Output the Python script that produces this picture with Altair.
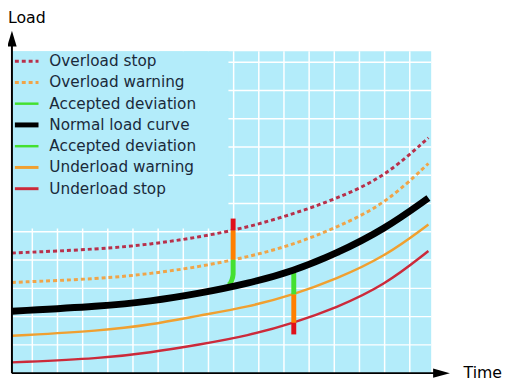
import altair as alt
import pandas as pd

# ---------------- data ----------------
time = [-0.81, 2.75, 4.69, 6.63, 8.57, 10.39, 12.05, 13.99, 15.74]
overload_stop = [4.25, 4.39, 4.56, 4.81, 5.16, 5.64, 6.16, 6.93, 8.33]
overload_warning = [3.21, 3.34, 3.52, 3.76, 4.11, 4.55, 5.14, 5.96, 7.42]
normal_load = [2.19, 2.37, 2.54, 2.82, 3.17, 3.62, 4.22, 5.09, 6.20]
underload_warning = [1.32, 1.50, 1.71, 2.04, 2.34, 2.78, 3.32, 4.11, 5.26]
underload_stop = [0.38, 0.52, 0.73, 1.01, 1.32, 1.78, 2.30, 3.10, 4.32]

# deviation marker 1 (overload side)
m1_time = 7.98
m1_red = [5.47, 5.05]
m1_orange = [5.05, 4.01]
m1_green_t = [7.98, 7.98, 7.93, 7.80]
m1_green_v = [4.01, 3.50, 3.30, 3.12]
# deviation marker 2 (underload side)
m2_time = 10.39
m2_green = [3.55, 2.78]
m2_orange = [2.78, 1.78]
m2_red = [1.78, 1.37]

grid_x = list(range(0, 16))
grid_y = list(range(1, 12))

legend_labels = ["Overload stop", "Overload warning", "Accepted deviation",
                 "Normal load curve", "Accepted deviation", "Underload warning",
                 "Underload stop"]

# ---------------- styling ----------------
W, H = 426, 327
BLUE = "#b3ecfa"
C_OSTOP = "#b8304a"
C_OWARN = "#f0a448"
C_GREEN = "#44e030"
C_UWARN = "#f0a030"
C_USTOP = "#cc2a3a"
C_MORANGE = "#ff8000"
C_MRED = "#e0101a"
TXT = "#1a2a3a"

legend_colors = [C_OSTOP, C_OWARN, C_GREEN, "#000000", C_GREEN, C_UWARN, C_USTOP]
legend_dash = [[4, 3], [4, 3], None, None, None, None, None]
legend_width = [3, 3, 2.5, 5, 2.5, 3, 3]

X = alt.X("t:Q", scale=alt.Scale(domain=[-0.81, 15.85], nice=False, zero=False), axis=None)
Y = alt.Y("v:Q", scale=alt.Scale(domain=[0, 11.39], nice=False, zero=False), axis=None)
Y2 = alt.Y2("v2:Q")

one = pd.DataFrame({"a": [0]})
layers = []

# grid
layers.append(alt.Chart(pd.DataFrame({"t": grid_x})).mark_rule(color="white", strokeWidth=1.5)
              .encode(x=X, y=alt.value(0), y2=alt.value(H)))
layers.append(alt.Chart(pd.DataFrame({"v": grid_y})).mark_rule(color="white", strokeWidth=1.5)
              .encode(y=Y, x=alt.value(0), x2=alt.value(W)))
# legend background
layers.append(alt.Chart(one).mark_rect(color=BLUE)
              .encode(x=alt.value(0), x2=alt.value(220), y=alt.value(0), y2=alt.value(180)))


def curve(vals, color, width, dash=None):
    df = pd.DataFrame({"t": time, "v": vals})
    kw = dict(color=color, strokeWidth=width, interpolate="basis", clip=True)
    if dash:
        kw["strokeDash"] = dash
    return alt.Chart(df).mark_line(**kw).encode(x=X, y=Y)


layers.append(curve(overload_stop, C_OSTOP, 3, [4, 3]))
layers.append(curve(overload_warning, C_OWARN, 3, [4, 3]))
layers.append(curve(underload_warning, C_UWARN, 2.5))
layers.append(curve(underload_stop, C_USTOP, 2.5))


def seg(t, pair, color):
    df = pd.DataFrame({"t": [t], "v": [pair[0]], "v2": [pair[1]]})
    return alt.Chart(df).mark_rule(color=color, strokeWidth=5, strokeCap="butt").encode(x=X, y=Y, y2=Y2)


layers.append(seg(m1_time, m1_red, C_MRED))
layers.append(seg(m1_time, m1_orange, C_MORANGE))
layers.append(alt.Chart(pd.DataFrame({"t": m1_green_t, "v": m1_green_v, "i": list(range(len(m1_green_t)))}))
              .mark_line(color=C_GREEN, strokeWidth=5, interpolate="monotone", strokeCap="butt")
              .encode(x=X, y=Y, order="i:Q"))
layers.append(seg(m2_time, m2_green, C_GREEN))
layers.append(seg(m2_time, m2_orange, C_MORANGE))
layers.append(seg(m2_time, m2_red, C_MRED))

layers.append(curve(normal_load, "#000000", 7))

# axes with arrows
layers.append(alt.Chart(one).mark_rule(color="black", strokeWidth=2)
              .encode(x=alt.value(0), y=alt.value(-8), y2=alt.value(H)))
layers.append(alt.Chart(one).mark_rule(color="black", strokeWidth=2)
              .encode(x=alt.value(0), x2=alt.value(430), y=alt.value(H)))
layers.append(alt.Chart(one).mark_point(shape="M-0.6,1L0,-1L0.6,1Z", filled=True, color="black",
                                        size=256, opacity=1, strokeWidth=0)
              .encode(x=alt.value(0), y=alt.value(-13)))
layers.append(alt.Chart(one).mark_point(shape="M-1,-0.55L1,0L-1,0.55Z", filled=True, color="black",
                                        size=289, opacity=1, strokeWidth=0)
              .encode(x=alt.value(436.5), y=alt.value(H)))

# legend
for i, lab in enumerate(legend_labels):
    yy = 10 + 21.6 * i
    kw = dict(color=legend_colors[i], strokeWidth=legend_width[i], strokeCap="butt")
    if legend_dash[i]:
        kw["strokeDash"] = legend_dash[i]
    layers.append(alt.Chart(one).mark_rule(**kw)
                  .encode(x=alt.value(3), x2=alt.value(27), y=alt.value(yy)))
    layers.append(alt.Chart(one).mark_text(text=lab, align="left", baseline="middle",
                                           font="DejaVu Sans", fontSize=15.5, color=TXT)
                  .encode(x=alt.value(38), y=alt.value(yy)))

# axis titles
layers.append(alt.Chart(one).mark_text(text="Load", align="left", baseline="alphabetic",
                                       font="DejaVu Sans", fontSize=16, color="black")
              .encode(x=alt.value(-4), y=alt.value(-29)))
layers.append(alt.Chart(one).mark_text(text="Time", align="right", baseline="middle",
                                       font="DejaVu Sans", fontSize=16, color="black")
              .encode(x=alt.value(498), y=alt.value(H)))

chart = alt.layer(*layers).properties(
    width=W, height=H, autosize="none",
    padding={"left": 4, "top": 41, "right": 74, "bottom": 6},
).configure_view(fill=BLUE, stroke=None)

chart.save("out.html", embed_options={"renderer": "svg", "actions": False})
